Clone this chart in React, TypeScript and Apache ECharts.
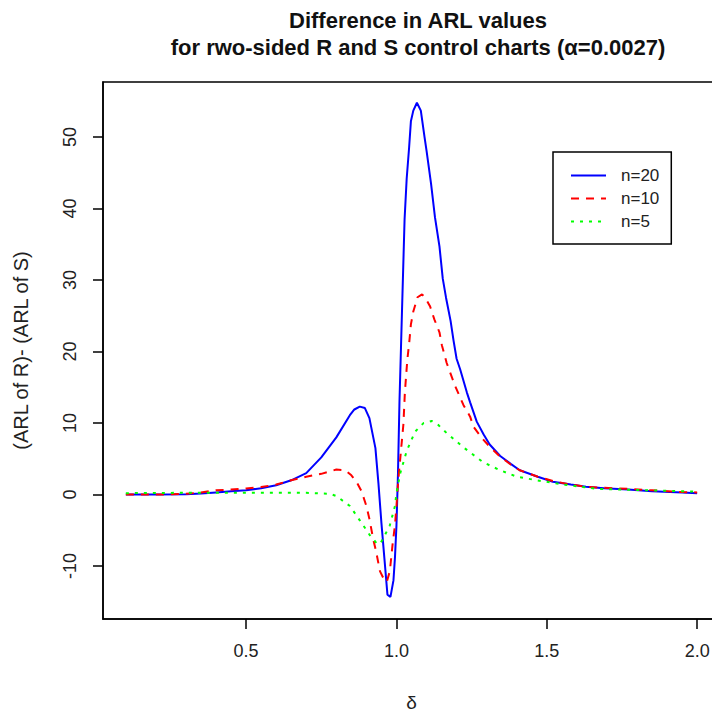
import React, { useEffect, useRef } from "react";
import * as echarts from "echarts";

const titleText = "Difference in ARL values\nfor rwo-sided R and S control charts (α=0.0027)";
const xName = "δ";
const yName = "(ARL of R)- (ARL of S)";
const seriesNames = ["n=20", "n=10", "n=5"];
const xTicks = [0.5, 1.0, 1.5, 2.0];
const yTicks = [-10, 0, 10, 20, 30, 40, 50];

const x20 = [0.10, 0.20, 0.30, 0.35, 0.40, 0.45, 0.50, 0.55, 0.60, 0.65, 0.70, 0.75, 0.80, 0.845, 0.86, 0.878, 0.895, 0.91, 0.93, 0.94, 0.95, 0.96, 0.97, 0.98, 0.99, 0.995, 1.00, 1.005, 1.01, 1.015, 1.02, 1.027, 1.034, 1.042, 1.048, 1.056, 1.068, 1.081, 1.093, 1.10, 1.115, 1.128, 1.143, 1.154, 1.165, 1.18, 1.19, 1.20, 1.212, 1.234, 1.245, 1.267, 1.29, 1.31, 1.345, 1.38, 1.41, 1.47, 1.52, 1.58, 1.63, 1.69, 1.77, 1.85, 1.95, 2.00];
const y20 = [0, 0, 0.05, 0.15, 0.3, 0.45, 0.6, 0.9, 1.3, 2.0, 3.0, 5.2, 8.0, 11.1, 11.9, 12.3, 12.1, 10.7, 6.5, 1.6, -4.0, -9.0, -14.0, -14.3, -12.0, -8.8, -4.3, 2.9, 13.0, 20.5, 28.1, 38.5, 44.2, 48.5, 52.2, 53.7, 54.8, 53.7, 50.1, 48.1, 43.5, 38.8, 34.7, 30.2, 27.5, 24.3, 21.5, 19.0, 17.5, 14.3, 12.9, 10.2, 8.4, 7.0, 5.4, 4.3, 3.4, 2.5, 1.8, 1.4, 1.1, 0.9, 0.7, 0.45, 0.3, 0.2];

const x10 = [0.10, 0.20, 0.30, 0.35, 0.40, 0.45, 0.50, 0.55, 0.60, 0.65, 0.70, 0.75, 0.80, 0.83, 0.85, 0.867, 0.884, 0.90, 0.91, 0.922, 0.932, 0.945, 0.96, 0.968, 0.978, 0.987, 0.995, 1.00, 1.006, 1.014, 1.023, 1.028, 1.036, 1.043, 1.048, 1.056, 1.07, 1.085, 1.095, 1.112, 1.126, 1.143, 1.151, 1.167, 1.195, 1.223, 1.245, 1.256, 1.284, 1.31, 1.345, 1.38, 1.41, 1.47, 1.52, 1.58, 1.63, 1.69, 1.77, 1.85, 1.95, 2.00];
const y10 = [0, 0, 0.1, 0.3, 0.6, 0.7, 0.85, 1.05, 1.4, 2.0, 2.5, 2.9, 3.5, 3.4, 2.7, 1.8, 0.45, -1.6, -3.4, -6.1, -7.9, -10.7, -12.0, -12.2, -10.7, -7.0, -4.3, -1.6, 2.0, 5.7, 9.8, 14.3, 18.8, 21.5, 23.8, 25.6, 27.6, 28.0, 27.6, 26.3, 24.5, 22.7, 20.9, 18.4, 15.2, 12.5, 10.9, 9.5, 7.9, 6.7, 5.3, 4.2, 3.4, 2.5, 1.9, 1.4, 1.1, 0.95, 0.8, 0.6, 0.35, 0.3];

const x5 = [0.10, 0.30, 0.50, 0.70, 0.78, 0.80, 0.845, 0.878, 0.912, 0.934, 0.945, 0.955, 0.978, 0.995, 1.00, 1.012, 1.034, 1.062, 1.09, 1.117, 1.14, 1.167, 1.223, 1.245, 1.267, 1.289, 1.345, 1.40, 1.467, 1.556, 1.667, 1.845, 2.00];
const y5 = [0.2, 0.25, 0.25, 0.25, 0.1, -0.2, -1.6, -3.6, -5.7, -6.8, -6.9, -6.2, -4.3, -1.6, 0.2, 2.9, 6.1, 8.8, 10.0, 10.3, 9.7, 8.6, 6.6, 5.9, 5.2, 4.5, 3.4, 2.5, 2.0, 1.4, 0.8, 0.6, 0.4];

const pairs = (xs: number[], ys: number[]) => xs.map((x, i) => [x, ys[i]]);

export default function App() {
  const ref = useRef<HTMLDivElement>(null);
  useEffect(() => {
    if (!ref.current) return;
    const chart = echarts.init(ref.current, null, { renderer: "svg" });
    const font = "'Liberation Sans', Arial, sans-serif";
    chart.setOption({
      animation: false,
      backgroundColor: "#ffffff",
      textStyle: { fontFamily: font },
      title: {
        text: titleText,
        left: 413,
        top: 2,
        textAlign: "center",
        textStyle: { fontSize: 22, fontWeight: "bold", color: "#111", lineHeight: 27, fontFamily: font },
      },
      legend: {
        orient: "vertical",
        left: 553,
        top: 152,
        data: seriesNames,
        itemWidth: 35,
        itemHeight: 14,
        itemGap: 6,
        padding: [15, 12, 14, 17],
        borderColor: "#000",
        borderWidth: 1.5,
        itemStyle: { opacity: 0 },
        textStyle: { fontSize: 17, color: "#222", fontFamily: font, padding: [0, 0, 0, 10] },
      },
      grid: {
        left: 103,
        top: 82,
        width: 617,
        height: 547,
        show: true,
        borderColor: "#000",
        borderWidth: 1.5,
      },
      xAxis: {
        type: "value",
        min: 0.024,
        max: 2.076,
        name: xName,
        nameLocation: "middle",
        nameGap: 74,
        nameTextStyle: { fontSize: 19, color: "#222", fontFamily: font },
        axisLine: { show: true, onZero: false, lineStyle: { color: "#000", width: 1.5 } },
        axisTick: { show: true, customValues: xTicks, length: 10, lineStyle: { color: "#000", width: 1.5 } },
        axisLabel: {
          customValues: xTicks,
          formatter: (v: number) => v.toFixed(1),
          fontSize: 18,
          color: "#222",
          margin: 23,
          fontFamily: font,
        },
        splitLine: { show: false },
      },
      yAxis: {
        type: "value",
        min: -17.4,
        max: 57.7,
        name: yName,
        nameLocation: "middle",
        nameGap: 72,
        nameRotate: 90,
        nameTextStyle: { fontSize: 20, color: "#222", fontFamily: font },
        axisLine: { show: true, onZero: false, lineStyle: { color: "#000", width: 1.5 } },
        axisTick: { show: true, customValues: yTicks, length: 10, lineStyle: { color: "#000", width: 1.5 } },
        axisLabel: {
          customValues: yTicks,
          rotate: 90,
          fontSize: 18,
          color: "#222",
          margin: 24,
          fontFamily: font,
        },
        splitLine: { show: false },
      },
      series: [
        {
          name: seriesNames[0],
          type: "line",
          data: pairs(x20, y20),
          showSymbol: false,
          symbol: "none",
          lineStyle: { color: "#0000ff", width: 2, type: "solid" },
          itemStyle: { color: "#0000ff" },
        },
        {
          name: seriesNames[1],
          type: "line",
          data: pairs(x10, y10),
          showSymbol: false,
          symbol: "none",
          lineStyle: { color: "#ff0000", width: 2, type: [8, 7] },
          itemStyle: { color: "#ff0000" },
        },
        {
          name: seriesNames[2],
          type: "line",
          data: pairs(x5, y5),
          showSymbol: false,
          symbol: "none",
          lineStyle: { color: "#00ff00", width: 2, type: [3, 6] },
          itemStyle: { color: "#00ff00" },
        },
      ],
    });
    return () => chart.dispose();
  }, []);
  return (
    <div
      ref={ref}
      style={{ position: "fixed", left: 0, top: 0, width: 730, height: 717, background: "#fff" }}
    />
  );
}
